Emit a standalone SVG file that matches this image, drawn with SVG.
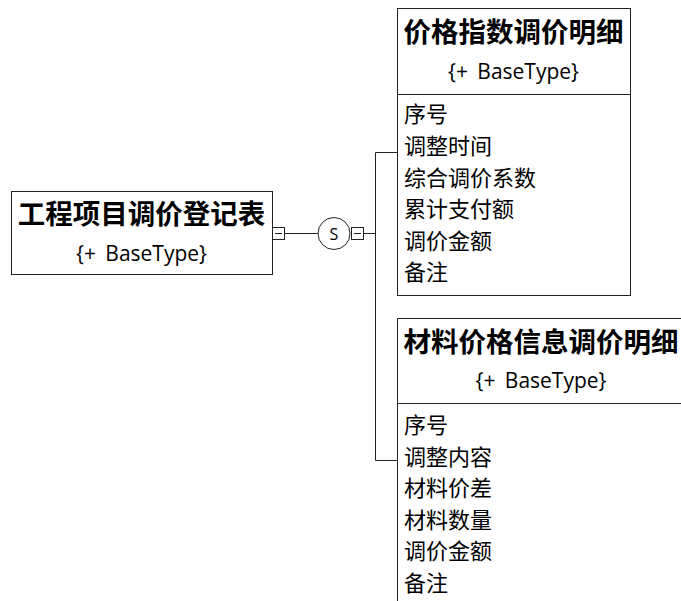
<svg xmlns="http://www.w3.org/2000/svg" width="681" height="601" viewBox="0 0 681 601">
<style>
.box{fill:#fff;stroke:#222;stroke-width:1}
.ln{fill:none;stroke:#222;stroke-width:1}
.t{font-family:"Noto Sans CJK SC",sans-serif;font-weight:bold;font-size:27.5px;fill:#000}
.b{font-family:"Open Sans","Noto Sans CJK SC",sans-serif;font-size:21px;word-spacing:4px;fill:#000}
.f{font-family:"Noto Sans CJK SC",sans-serif;font-size:22px;fill:#000}
</style>
<rect width="681" height="601" fill="#fff"/>
<g id="connectors">
<line class="ln" x1="284.5" y1="233.5" x2="318" y2="233.5"/>
<circle class="ln" cx="334" cy="233.5" r="16"/>
<text x="334" y="239.5" text-anchor="middle" font-family="Open Sans,sans-serif" font-size="16" fill="#000">S</text>
<line class="ln" x1="364" y1="233.5" x2="375.5" y2="233.5"/>
<polyline class="ln" points="397,152.5 375.5,152.5 375.5,460.5 397,460.5"/>
<rect class="box" x="272.5" y="227.5" width="12" height="12"/>
<line class="ln" x1="275" y1="233.5" x2="282" y2="233.5"/>
<rect class="box" x="351.5" y="227.5" width="12" height="12"/>
<line class="ln" x1="354" y1="233.5" x2="361" y2="233.5"/>
</g>
<g id="node1">
<rect class="box" x="11.5" y="191.5" width="261" height="83"/>
<text class="t" x="141.5" y="224" text-anchor="middle">工程项目调价登记表</text>
<text class="b" x="141.5" y="261" text-anchor="middle">{+ BaseType}</text>
</g>
<g id="node2">
<rect class="box" x="397.5" y="8.5" width="233" height="287"/>
<line class="ln" x1="397.5" y1="94.5" x2="630.5" y2="94.5"/>
<text class="t" x="513.5" y="42" text-anchor="middle">价格指数调价明细</text>
<text class="b" x="513.5" y="79" text-anchor="middle">{+ BaseType}</text>
<text class="f" x="404" y="122">序号</text>
<text class="f" x="404" y="154">调整时间</text>
<text class="f" x="404" y="185.5">综合调价系数</text>
<text class="f" x="404" y="217">累计支付额</text>
<text class="f" x="404" y="248.5">调价金额</text>
<text class="f" x="404" y="280">备注</text>
</g>
<g id="node3">
<path class="ln" d="M397.5,601 V318.5 H690"/>
<line class="ln" x1="397.5" y1="403.5" x2="690" y2="403.5"/>
<text class="t" x="541" y="352" text-anchor="middle">材料价格信息调价明细</text>
<text class="b" x="541" y="388" text-anchor="middle">{+ BaseType}</text>
<text class="f" x="404" y="433">序号</text>
<text class="f" x="404" y="464.5">调整内容</text>
<text class="f" x="404" y="496">材料价差</text>
<text class="f" x="404" y="527.5">材料数量</text>
<text class="f" x="404" y="559">调价金额</text>
<text class="f" x="404" y="590.5">备注</text>
</g>
</svg>
